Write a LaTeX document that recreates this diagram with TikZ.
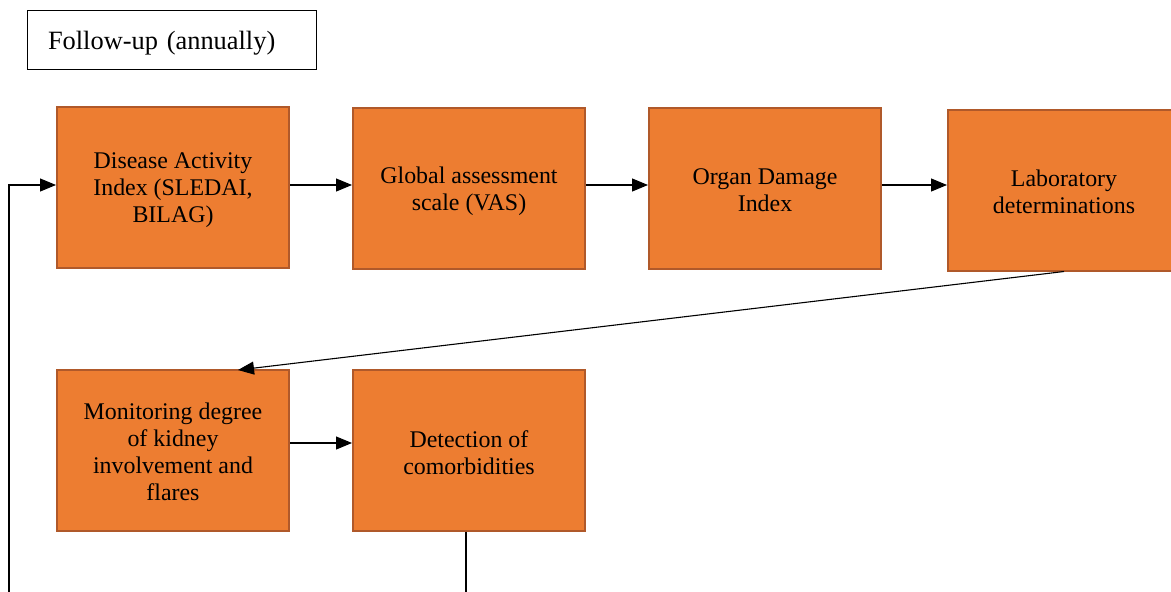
\documentclass[tikz,border=0pt]{standalone}
\usepackage{fontspec}
\setmainfont{Liberation Serif}
\usetikzlibrary{arrows.meta}
\definecolor{boxfill}{HTML}{ED7D31}
\definecolor{boxline}{HTML}{B0592A}
\begin{document}
\begin{tikzpicture}[x=1pt,y=-1pt,
  stagebox/.style={draw=boxline,line width=2pt,fill=boxfill,minimum width=232pt,minimum height=161pt,inner sep=0pt},
  boxtext/.style={inner sep=0pt,align=center,font=\fontsize{23.9}{27}\selectfont},
  conn/.style={line width=1.1pt,-{Triangle[length=16pt,width=13pt]}},
  plain/.style={line width=1.1pt}]
\useasboundingbox (0,0) rectangle (1171,592);
\node[draw,line width=1pt,minimum width=289pt,minimum height=59pt,inner xsep=21pt,inner ysep=0pt,
  text width=247pt,align=left,text height=25.5pt,text depth=6pt,
  font=\fontsize{26.4}{30}\selectfont] (title) at (171.5,39.5) {Follow-up (annually)};
\node[stagebox] (b1) at (173,187.5) {};
\node[stagebox] (b2) at (469,188.5) {};
\node[stagebox] (b3) at (765,188) {};
\node[stagebox] (b4) at (1064,190) {};
\node[stagebox] (b5) at (173,450) {};
\node[stagebox] (b6) at (469,450) {};
\node[boxtext] (t1) at ([yshift=-3pt]b1.center) {Disease Activity\\Index (SLEDAI,\\BILAG)};
\node[boxtext] (t2) at ([yshift=-3pt]b2.center) {Global assessment\\scale (VAS)};
\node[boxtext] (t3) at ([yshift=-2pt]b3.center) {Organ Damage\\Index};
\node[boxtext] (t4) at ([yshift=-2pt]b4.center) {Laboratory\\determinations};
\node[boxtext] (t5) at ([yshift=-2pt]b5.center) {Monitoring degree\\of kidney\\involvement and\\flares};
\node[boxtext] (t6) at ([yshift=-3pt]b6.center) {Detection of\\comorbidities};
\draw[conn] (b1.east |- 0,185) -- (b2.west |- 0,185);
\draw[conn] (b2.east |- 0,185) -- (b3.west |- 0,185);
\draw[conn] (b3.east |- 0,185) -- (b4.west |- 0,185);
\draw[conn] (b4.south) -- (238,370);
\draw[conn] (b5.east |- 0,443) -- (b6.west |- 0,443);
\coordinate (e1) at (466,592);
\coordinate (e2) at (9,592);
\draw[plain] (b6.south -| e1) -- (e1);
\draw[conn] (e2) -- (9,185) -- (b1.west |- 0,185);
\end{tikzpicture}
\end{document}
